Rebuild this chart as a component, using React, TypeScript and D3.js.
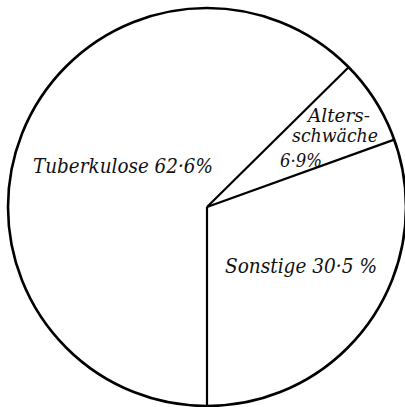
import * as d3 from "d3";
import { useEffect, useRef } from "react";

// causes of death and their shares (percent)
const categories = ["Tuberkulose", "Altersschwäche", "Sonstige"];
const shares = [62.6, 6.9, 30.5];
const shareLabels = ["62·6%", "6·9%", "30·5 %"];

const W = 405;
const H = 407;

function App() {
  const ref = useRef<SVGSVGElement | null>(null);

  useEffect(() => {
    const svg = d3.select(ref.current);
    svg.selectAll("*").remove();

    const cx = 207;
    const cy = 207;
    const r = 199;

    const data = categories.map((c, i) => ({ name: c, value: shares[i] }));

    // slices run clockwise from the bottom, Sonstige ends at 6 o'clock
    const pie = d3
      .pie<any>()
      .sort(null)
      .value((d) => d.value)
      .startAngle(-Math.PI)
      .endAngle(Math.PI);

    const arcs = pie(data);

    const g = svg.append("g").attr("transform", `translate(${cx},${cy})`);

    g.append("circle")
      .attr("r", r)
      .attr("fill", "#fff")
      .attr("stroke", "#000")
      .attr("stroke-width", 2.6);

    // radial boundary lines
    g.selectAll("line.edge")
      .data(arcs)
      .enter()
      .append("line")
      .attr("class", "edge")
      .attr("x1", 0)
      .attr("y1", 0)
      .attr("x2", (d) => r * Math.sin(d.startAngle))
      .attr("y2", (d) => -r * Math.cos(d.startAngle))
      .attr("stroke", "#000")
      .attr("stroke-width", 2.2);

    // hand placed label lines (offsets from the centre)
    const labelLines = [
      [{ text: `${categories[0]} ${shareLabels[0]}`, x: -174, y: -34, len: 180, size: 20 }],
      [
        { text: "Alters-", x: 101, y: -85, len: 62, size: 18 },
        { text: "schwäche", x: 85, y: -65, len: 86, size: 18 },
        { text: shareLabels[1], x: 73, y: -40, len: 42, size: 18 },
      ],
      [{ text: `${categories[2]} ${shareLabels[2]}`, x: 18, y: 66, len: 152, size: 20 }],
    ];

    arcs.forEach((a, i) => {
      labelLines[i].forEach((l) => {
        g.append("text")
          .attr("x", l.x)
          .attr("y", l.y)
          .attr("textLength", l.len)
          .attr("lengthAdjust", "spacingAndGlyphs")
          .attr("font-family", "'DejaVu Serif', serif")
          .attr("font-style", "italic")
          .attr("font-size", l.size)
          .attr("fill", "#111")
          .text(l.text);
      });
    });
  }, []);

  return (
    <svg
      ref={ref}
      width={W}
      height={H}
      style={{ position: "absolute", left: 0, top: 0, background: "#fff" }}
    />
  );
}

export default App;
